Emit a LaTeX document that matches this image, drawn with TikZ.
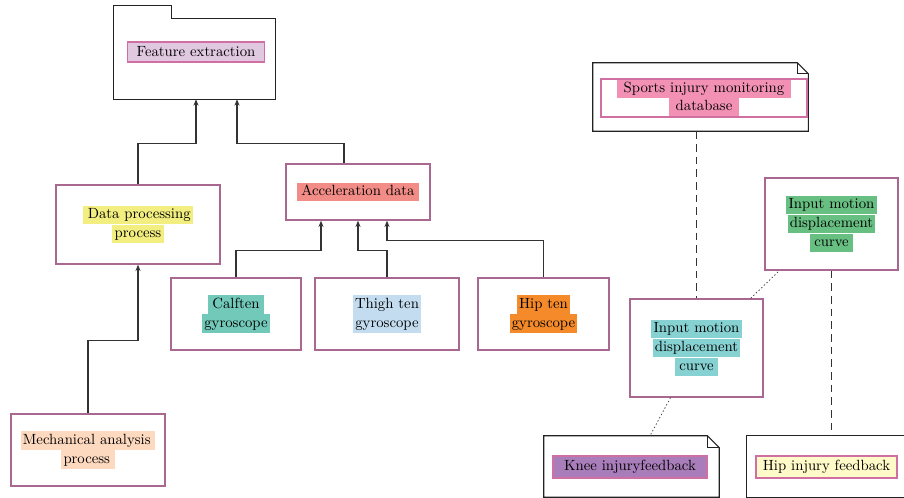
\documentclass[tikz,border=0pt]{standalone}
\usepackage{xcolor}
\usepackage{tikz}
\usetikzlibrary{positioning,arrows.meta,calc}

\definecolor{boxline}{HTML}{A86890}
\definecolor{framec}{HTML}{222222}
\definecolor{linec}{HTML}{333333}
\definecolor{tagline}{HTML}{CF6FA3}
\definecolor{featfill}{HTML}{E0C8E0}
\definecolor{procfill}{HTML}{F2EE80}
\definecolor{accfill}{HTML}{F28C86}
\definecolor{calffill}{HTML}{72C9B9}
\definecolor{thighfill}{HTML}{C3DCF0}
\definecolor{hipfill}{HTML}{F48A2A}
\definecolor{mechfill}{HTML}{FDD9BF}
\definecolor{dbfill}{HTML}{F291B4}
\definecolor{greenfill}{HTML}{67BF82}
\definecolor{tealfill}{HTML}{86D1D1}
\definecolor{kneefill}{HTML}{A97DBA}
\definecolor{hipfbfill}{HTML}{FFFAC8}

\setlength{\fboxsep}{1.6pt}
\newcommand{\hl}[2]{\colorbox{#1}{\vphantom{Apy}#2}}

\begin{document}
\begin{tikzpicture}[x=0.025cm,y=-0.025cm]
	\tikzset{
		box/.style={draw=boxline,line width=1pt,fill=white,align=center,inner sep=0pt,
			font=\fontsize{10.5}{13.5}\selectfont},
		frame/.style={draw=none,inner sep=0pt},
		outline/.style={draw=framec,line width=0.8pt,fill=white},
		tag/.style={draw=tagline,line width=0.8pt,inner sep=0pt,align=center,
			font=\fontsize{10.5}{13}\selectfont},
		link/.style={draw=linec,line width=0.8pt},
		arr/.style={link,-{Stealth[length=4.5pt,width=3.6pt]}},
		dashline/.style={link,dash pattern=on 5.5pt off 3.5pt},
		dotline/.style={draw=linec,line width=0.5pt,dash pattern=on 1pt off 1.6pt}
	}
	\useasboundingbox (0,0) rectangle (904,498);

	%% Feature extraction folder
	\node[frame,minimum width=4.025cm,minimum height=2cm] (feat) at (194.5,59) {};
	\draw[outline] (feat.north west) rectangle (feat.south east);
	\draw[outline] (feat.north west) -- ++(0,-13) -- ++(58,0) -- ++(0,13);
	\node[tag,fill=featfill,minimum width=3.425cm,minimum height=0.5cm] (featlbl) at (196,52) {Feature extraction};

	%% Left tree
	\node[box,minimum width=4.1cm,minimum height=1.975cm] (proc) at (138,224.5)
		{\hl{procfill}{\,Data processing}\\\hl{procfill}{process}};
	\node[box,minimum width=3.6cm,minimum height=1.4cm] (acc) at (358,192)
		{\hl{accfill}{\,Acceleration data\,}};
	\node[box,minimum width=3.25cm,minimum height=1.8cm] (calf) at (236,314)
		{\hl{calffill}{\,Calften\,}\\\hl{calffill}{gyroscope}};
	\node[box,minimum width=3.6cm,minimum height=1.8cm] (thigh) at (387,314)
		{\hl{thighfill}{Thigh ten}\\\hl{thighfill}{gyroscope}};
	\node[box,minimum width=3.275cm,minimum height=1.8cm] (hip) at (543.5,314)
		{\hl{hipfill}{Hip ten}\\\hl{hipfill}{gyroscope}};
	\node[box,minimum width=3.85cm,minimum height=1.8cm] (mech) at (88,450)
		{\hl{mechfill}{Mechanical analysis\,}\\\hl{mechfill}{process\,}};

	\draw[arr] (proc.north) |- ($(feat.south)+(1.5,44)$) -- ($(feat.south)+(1.5,0)$);
	\draw[arr] ($(acc.north)+(-14,0)$) |- ($(feat.south)+(42.5,44)$) -- ($(feat.south)+(42.5,0)$);
	\draw[arr] (calf.north) |- ($(acc.south)+(-37,30)$) -- ($(acc.south)+(-37,0)$);
	\draw[arr] (thigh.north) |- ($(acc.south)+(0,30)$) -- (acc.south);
	\draw[arr] (hip.north) |- ($(acc.south)+(29,20)$) -- ($(acc.south)+(29,0)$);
	\draw[arr] (mech.north) |- ($(proc.south)+(0,76)$) -- (proc.south);

	%% Right side
	\node[frame,minimum width=5.375cm,minimum height=1.7cm] (db) at (700.5,97) {};
	\draw[outline] (db.north west) -- ($(db.north east)+(-11,0)$) -- ($(db.north east)+(0,11)$)
		-- (db.south east) -- (db.south west) -- cycle;
	\draw[outline,fill=none] ($(db.north east)+(-11,0)$) |- ($(db.north east)+(0,11)$);
	\node[tag,minimum width=5.15cm,minimum height=0.95cm] (dblbl) at (704,98)
		{\hl{dbfill}{\;Sports injury monitoring\;}\\\hl{dbfill}{\;database\;}};

	\node[box,minimum width=3.325cm,minimum height=2.3cm] (green) at (831.5,224)
		{\hl{greenfill}{Input motion}\\\hl{greenfill}{displacement}\\\hl{greenfill}{\,curve\,}};
	\node[box,minimum width=3.325cm,minimum height=2.45cm] (teal) at (696.5,348)
		{\hl{tealfill}{Input motion}\\\hl{tealfill}{displacement}\\\hl{tealfill}{\,curve\,}};

	\node[frame,minimum width=4.375cm,minimum height=1.525cm] (knee) at (631.5,466.5) {};
	\draw[outline] (knee.north west) -- ($(knee.north east)+(-12,0)$) -- ($(knee.north east)+(0,12)$)
		-- (knee.south east) -- (knee.south west) -- cycle;
	\draw[outline,fill=none] ($(knee.north east)+(-12,0)$) |- ($(knee.north east)+(0,12)$);
	\node[tag,fill=kneefill,minimum width=3.85cm,minimum height=0.55cm] (kneelbl) at (630,467)
		{Knee injuryfeedback};

	\node[frame,minimum width=4.125cm,minimum height=1.525cm] (hipfb) at (829.5,466.5) {};
	\draw[outline] (hipfb.north west) rectangle (hipfb.south east);
	\node[tag,fill=hipfbfill,minimum width=3.525cm,minimum height=0.55cm] (hipfblbl) at (826.5,467)
		{Hip injury feedback};

	\draw[dashline] (teal.north |- db.south) -- (teal.north);
	\draw[dashline] (green.south) -- (green.south |- hipfb.north);
	\draw[dotline] ($(teal.north east)+(-13,0)$) -- ($(green.south west)+(15,0)$);
	\draw[dotline] ($(teal.south)+(-26,0)$) -- ($(knee.north)+(18.5,0)$);
\end{tikzpicture}
\end{document}
